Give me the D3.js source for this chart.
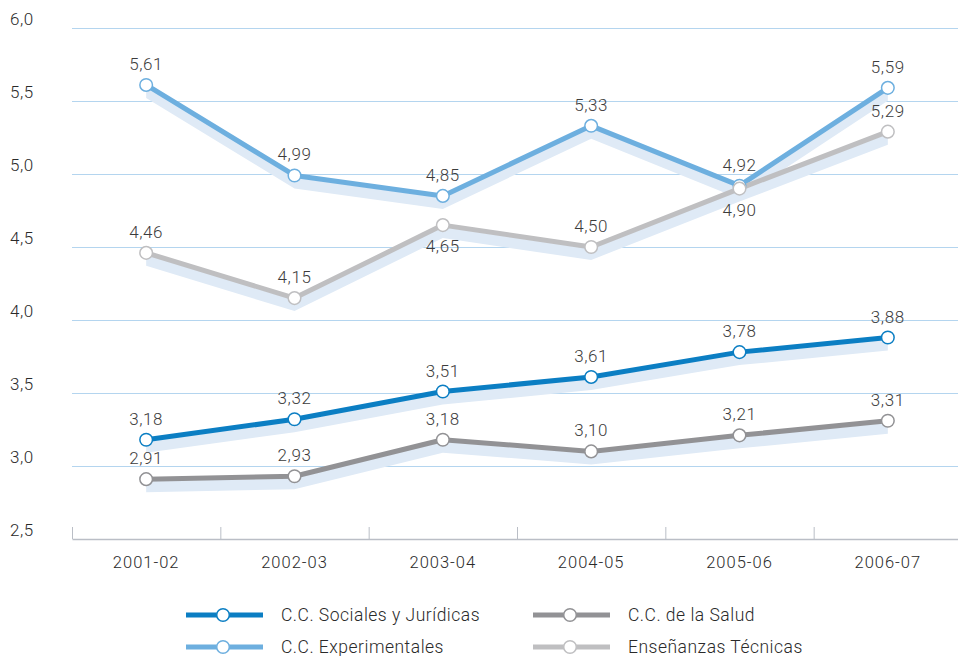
<!DOCTYPE html>
<html>
<head>
<meta charset="utf-8">
<script src="https://cdn.jsdelivr.net/npm/d3@7"></script>
<style>
  html, body { margin: 0; padding: 0; background: #fff; }
  svg { display: block; font-family: Roboto, "DejaVu Sans", sans-serif; font-weight: 300; }
</style>
</head>
<body>
<svg id="chart" width="958" height="656"></svg>
<script>
// Academic years on the x axis
const years = ["2001-02", "2002-03", "2003-04", "2004-05", "2005-06", "2006-07"];

// One array of values per branch of study
const sociales       = [3.18, 3.32, 3.51, 3.61, 3.78, 3.88];
const experimentales = [5.61, 4.99, 4.85, 5.33, 4.92, 5.59];
const salud          = [2.91, 2.93, 3.18, 3.10, 3.21, 3.31];
const tecnicas       = [4.46, 4.15, 4.65, 4.50, 4.90, 5.29];

// Y axis tick values
const yTicks = [2.5, 3.0, 3.5, 4.0, 4.5, 5.0, 5.5, 6.0];

// Series names, in drawing order
const seriesNames = ["C.C. Sociales y Jurídicas", "C.C. Experimentales", "C.C. de la Salud", "Enseñanzas Técnicas"];
const seriesValues = [sociales, experimentales, salud, tecnicas];
// Indices of points whose value label sits below the marker
const labelsBelow = [[], [], [], [2, 4]];

const colors = ["#0b7ec3", "#6dafdf", "#929295", "#bfbfc1"];
const shadowColor = "#dfeaf6";
const textColor = "#2a2a2a";

const esLocale = d3.formatLocale({ decimal: ",", thousands: ".", grouping: [3], currency: ["", " €"] });
const fmt2 = esLocale.format(".2f");
const fmt1 = esLocale.format(".1f");

const svg = d3.select("#chart");

const x = d3.scaleBand().domain(years).range([72, 962]).padding(0);
const y = d3.scaleLinear().domain([2.5, 6.0]).range([539, 28]);
const cx = d => x(d) + x.bandwidth() / 2;

// Horizontal gridlines
const grid = svg.append("g")
  .attr("transform", "translate(72,0)")
  .call(d3.axisLeft(y).tickValues(yTicks.filter(v => v > 2.5)).tickSize(-890).tickFormat(""));
grid.select(".domain").remove();
grid.selectAll(".tick line").attr("stroke", "#b4d5ef").attr("stroke-width", 1);

// Y labels, left aligned at the page margin
const yAxis = svg.append("g")
  .attr("transform", "translate(10,0)")
  .call(d3.axisRight(y).tickValues(yTicks).tickSize(0).tickPadding(0).tickFormat(fmt1));
yAxis.select(".domain").remove();
yAxis.selectAll(".tick text")
  .attr("x", 0).attr("dy", "-0.2em")
  .attr("text-anchor", "start")
  .attr("fill", textColor)
  .style("font-size", "17px")
  .style("font-family", "Roboto, sans-serif")
  .style("font-weight", 300)
  .style("letter-spacing", "0.5px");

// X axis: baseline, category labels and boundary ticks
const xAxis = svg.append("g")
  .attr("transform", `translate(0,${y(2.5)})`)
  .call(d3.axisBottom(x).tickSize(0).tickPadding(17));
xAxis.select(".domain").attr("stroke", "#babec6").attr("stroke-width", 1.5);
xAxis.selectAll(".tick text")
  .attr("fill", textColor)
  .style("font-size", "16.5px")
  .style("font-family", "Roboto, sans-serif")
  .style("font-weight", 300)
  .style("letter-spacing", "1px");
xAxis.selectAll(".boundary")
  .data(years)
  .join("line")
  .attr("class", "boundary")
  .attr("x1", d => x(d) + 0.5).attr("x2", d => x(d) + 0.5)
  .attr("y1", 0).attr("y2", -12)
  .attr("stroke", "#babec6").attr("stroke-width", 1);

const series = seriesNames.map((name, i) => ({
  name, color: colors[i], below: labelsBelow[i],
  points: years.map((yr, j) => ({ yr, v: seriesValues[i][j], j }))
}));

// Soft offset band beneath each line
const band = d3.area().x(d => cx(d.yr)).y0(d => y(d.v) + 2).y1(d => y(d.v) + 13);
svg.append("g").selectAll("path")
  .data(series).join("path")
  .attr("d", d => band(d.points))
  .attr("fill", shadowColor);

// Lines
const line = d3.line().x(d => cx(d.yr)).y(d => y(d.v));
svg.append("g").selectAll("path")
  .data(series).join("path")
  .attr("d", d => line(d.points))
  .attr("fill", "none")
  .attr("stroke", d => d.color)
  .attr("stroke-width", 5)
  .attr("stroke-linejoin", "round");

// Markers
svg.append("g").selectAll("g")
  .data(series).join("g")
  .each(function (s) {
    d3.select(this).selectAll("circle")
      .data(s.points).join("circle")
      .attr("cx", d => cx(d.yr))
      .attr("cy", d => y(d.v))
      .attr("r", 6.3)
      .attr("fill", "#fff")
      .attr("stroke", s.color)
      .attr("stroke-width", 1.5);
  });

// Value labels
svg.append("g").selectAll("g")
  .data(series).join("g")
  .each(function (s) {
    d3.select(this).selectAll("text")
      .data(s.points).join("text")
      .attr("x", d => cx(d.yr))
      .attr("y", d => y(d.v) + (s.below.includes(d.j) ? 27 : -15))
      .attr("text-anchor", "middle")
      .attr("fill", "#3c3c3c")
      .style("font-size", "17px")
      .style("letter-spacing", "0.6px")
      .text(d => fmt2(d.v));
  });

// Legend, two columns by two rows
const legendPos = [
  { lx: 186, ly: 615 }, { lx: 186, ly: 647 },
  { lx: 533, ly: 615 }, { lx: 533, ly: 647 }
];
const legendOrder = [0, 1, 2, 3];
const legend = svg.append("g");
legendOrder.forEach((si, k) => {
  const s = series[si], p = legendPos[k];
  const g = legend.append("g").attr("transform", `translate(${p.lx},${p.ly})`);
  g.append("line").attr("x1", 0).attr("x2", 77).attr("y1", 0).attr("y2", 0)
    .attr("stroke", s.color).attr("stroke-width", 5);
  g.append("circle").attr("cx", 37).attr("cy", 0).attr("r", 6.3)
    .attr("fill", "#fff").attr("stroke", s.color).attr("stroke-width", 1.5);
  g.append("text").attr("x", 95).attr("y", 6)
    .attr("fill", textColor)
    .style("font-size", "17.5px")
    .style("letter-spacing", "0.5px")
    .text(s.name);
});
</script>
</body>
</html>
